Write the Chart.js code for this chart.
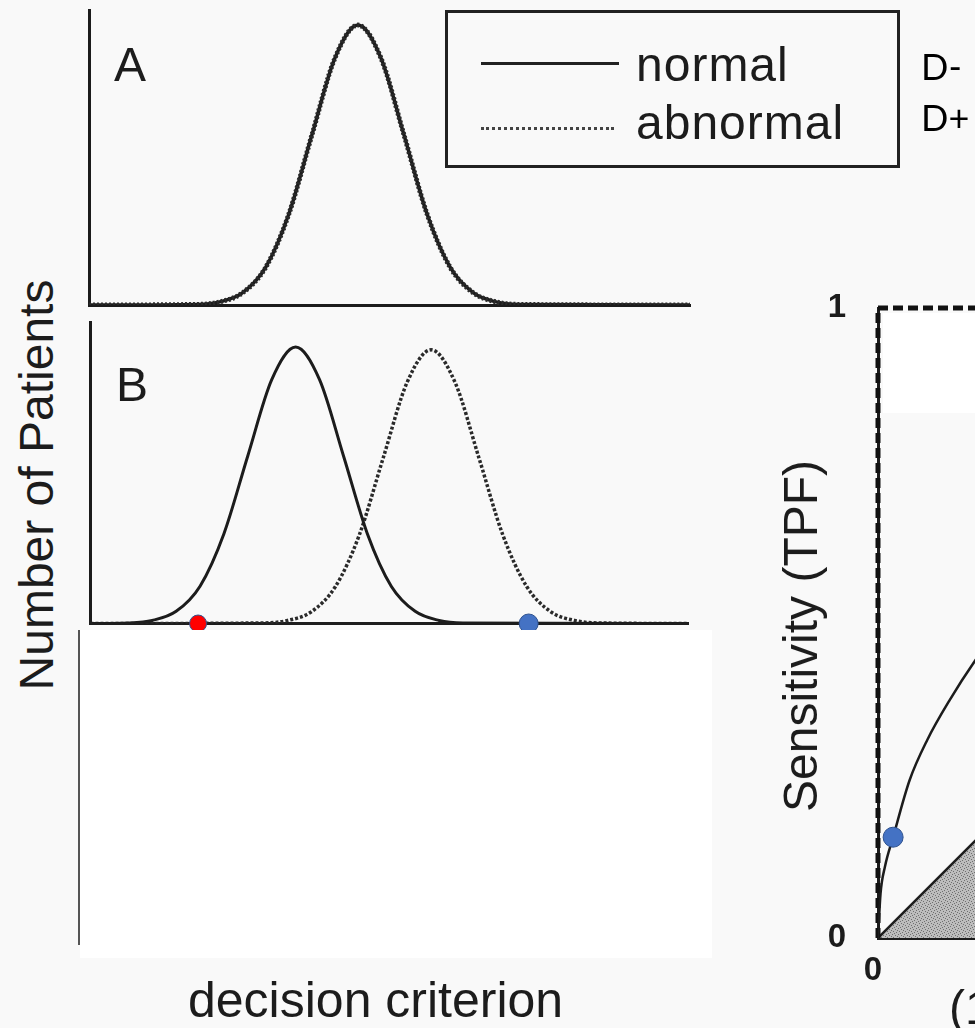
<!DOCTYPE html>
<html>
<head>
<meta charset="utf-8">
<script src="https://cdn.jsdelivr.net/npm/chart.js@4.4.1/dist/chart.umd.min.js"></script>
<style>
html, body { margin: 0; padding: 0; }
body { width: 975px; height: 1028px; overflow: hidden; position: relative; background: #f9f9f9;
       font-family: "Liberation Sans", Arial, sans-serif; color: #1c1c1c; }
canvas { position: absolute; }
.txt { position: absolute; white-space: nowrap; line-height: 1; }
.rot { transform: translate(-50%, -50%) rotate(-90deg); }
.cover { position: absolute; background: #fff; z-index: 5; }
.legend { position: absolute; left: 445px; top: 10px; width: 455px; height: 158px; box-sizing: border-box; border: 3px solid #222; }
.sample { position: absolute; left: 481px; height: 0; }
.dl { font-family: Lato, "Open Sans", sans-serif; font-size: 36px; color: #000; }
</style>
</head>
<body>

<canvas id="panel-a" width="620" height="316" style="left:80px;top:0px"></canvas>
<canvas id="panel-b" width="620" height="322" style="left:80px;top:312px"></canvas>
<canvas id="roc" width="760" height="748" style="left:760px;top:280px"></canvas>

<div class="txt" style="left:114px;top:41px;font-size:48px">A</div>
<div class="txt" style="left:116px;top:361px;font-size:48px">B</div>

<div class="legend"></div>
<div class="sample" style="top:62px;width:138px;border-top:3px solid #222"></div>
<div class="sample" style="top:127px;width:133px;border-top:3px dotted #444"></div>
<div class="txt" style="left:636px;top:41px;font-size:48px;letter-spacing:1px">normal</div>
<div class="txt" style="left:636px;top:99px;font-size:48px;letter-spacing:1px">abnormal</div>

<div class="txt dl" style="left:921px;top:48px">D-</div>
<div class="txt dl" style="left:921px;top:99px">D+</div>

<div class="txt rot" style="left:37px;top:485px;font-size:48px">Number of Patients</div>
<div class="txt" style="left:188px;top:975px;font-size:50px">decision criterion</div>
<div class="txt rot" style="left:801px;top:636px;font-size:48px">Sensitivity (TPF)</div>
<div class="txt" style="left:949px;top:984px;font-size:48px">(1 - Specificity)</div>

<div class="cover" style="left:80px;top:630px;width:632px;height:328px"></div>
<div class="cover" style="left:883px;top:313px;width:92px;height:100px"></div>
<div class="cover" style="left:78px;top:630px;width:2px;height:315px;background:#555"></div>

<script>
// A: both groups sit on top of each other
var aCriterion = [0, 2.15, 2.61, 3.07, 3.53, 3.99, 4.45, 4.91, 5.37, 5.83, 6.29, 6.75, 7.21, 7.67, 8.13, 8.59, 12]
var aNormal = [0, 0.002, 0.011, 0.044, 0.135, 0.325, 0.607, 0.882, 1, 0.882, 0.607, 0.325, 0.135, 0.044, 0.011, 0.002, 0]
var aAbnormal = [0, 0.002, 0.011, 0.044, 0.135, 0.325, 0.607, 0.882, 1, 0.882, 0.607, 0.325, 0.135, 0.044, 0.011, 0.002, 0]

// B: separated groups
var bNormalX = [0, 0.76, 1.24, 1.72, 2.20, 2.68, 3.16, 3.64, 4.12, 4.60, 5.08, 5.56, 6.04, 6.52, 7.00, 7.48, 12]
var bNormalY = [0, 0.002, 0.011, 0.044, 0.135, 0.325, 0.607, 0.882, 1, 0.882, 0.607, 0.325, 0.135, 0.044, 0.011, 0.002, 0]
var bAbnormalX = [0, 3.48, 3.96, 4.44, 4.92, 5.40, 5.88, 6.36, 6.84, 7.32, 7.80, 8.28, 8.76, 9.24, 9.72, 10.20, 12]
var bAbnormalY = [0, 0.002, 0.011, 0.043, 0.134, 0.321, 0.600, 0.873, 0.99, 0.873, 0.600, 0.321, 0.134, 0.043, 0.011, 0.002, 0]

// cut-off markers on the criterion axis
var cutX = [2.16, 8.8]
var cutColors = ['#ff0000', '#4472c4']
var cutRadius = [8.5, 9.5]

// ROC panel
var rocFpf = [0, 0.004, 0.011, 0.024, 0.05, 0.078, 0.114, 0.154, 0.25, 0.4, 0.6, 0.8, 1]
var rocTpf = [0, 0.07, 0.113, 0.16, 0.25, 0.314, 0.378, 0.44, 0.57, 0.72, 0.86, 0.95, 1]
var perfectFpf = [0, 0, 1]
var perfectTpf = [0, 1, 1]
var chanceFpf = [0, 1]
var chanceTpf = [0, 1]
var opFpf = [0.024]
var opTpf = [0.16]
var rocTicks = [0, 1]

var ink = '#1c1c1c'

function pts(xs, ys) {
    return xs.map(function (x, i) { return {x: x, y: ys[i]} })
}

function bareAxis(min, max) {
    return {
        type: 'linear', min: min, max: max,
        grid: {display: false, drawTicks: false},
        ticks: {display: false},
        border: {display: true, width: 3, color: ink}
    }
}

function curve(data, dash, width, color) {
    return {
        data: data, borderColor: color, borderWidth: width, borderDash: dash,
        pointRadius: 0, cubicInterpolationMode: 'monotone', fill: false
    }
}

var baseOpts = {
    responsive: false,
    animation: false,
    events: [],
    plugins: {legend: {display: false}, tooltip: {enabled: false}}
}

function opts(extra) {
    return Object.assign({}, baseOpts, extra)
}

new Chart(document.getElementById('panel-a'), {
    type: 'line',
    data: {
        datasets: [
            curve(pts(aCriterion, aAbnormal), [2, 2], 5, '#2a2a2a'),
            curve(pts(aCriterion, aNormal), [], 3.5, ink)
        ]
    },
    options: opts({
        layout: {padding: {left: 9, right: 10, top: 10, bottom: 11}},
        scales: {x: bareAxis(0, 12), y: bareAxis(0, 1.054)}
    })
})

new Chart(document.getElementById('panel-b'), {
    type: 'line',
    data: {
        datasets: [
            {
                data: pts(cutX, [0, 0]), showLine: false, clip: false,
                pointRadius: cutRadius, pointBackgroundColor: cutColors,
                pointBorderColor: '#2f528f', pointBorderWidth: 1
            },
            curve(pts(bNormalX, bNormalY), [], 3, ink),
            curve(pts(bAbnormalX, bAbnormalY), [3, 2], 3.5, '#2a2a2a')
        ]
    },
    options: opts({
        layout: {padding: {left: 8, right: 12, top: 6, bottom: 9}},
        scales: {x: bareAxis(0, 12), y: bareAxis(0, 1.089)}
    })
})

// speckled grey for the area under the chance line
var tile = document.createElement('canvas')
tile.width = 6
tile.height = 6
var tg = tile.getContext('2d')
tg.fillStyle = '#bdbdbd'
tg.fillRect(0, 0, 6, 6)
tg.fillStyle = '#6f6f6f'
;[[0, 0], [3, 1], [1, 3], [4, 4], [2, 5], [5, 2]].forEach(function (p) { tg.fillRect(p[0], p[1], 1, 1) })
var speckle = tg.createPattern(tile, 'repeat')

var tickFont = {family: 'Liberation Sans', size: 33, weight: 'bold'}

new Chart(document.getElementById('roc'), {
    type: 'line',
    data: {
        datasets: [
            {
                data: pts(opFpf, opTpf), showLine: false, clip: false,
                pointRadius: 10, pointBackgroundColor: '#4472c4',
                pointBorderColor: '#2f528f', pointBorderWidth: 1
            },
            curve(pts(rocFpf, rocTpf), [], 2.5, ink),
            Object.assign(curve(pts(perfectFpf, perfectTpf), [10, 5], 5, '#111'), {clip: false, cubicInterpolationMode: 'default', tension: 0}),
            Object.assign(curve(pts(chanceFpf, chanceTpf), [], 2.5, ink), {fill: 'origin', backgroundColor: speckle, tension: 0})
        ]
    },
    options: opts({
        layout: {padding: {left: 0, right: 12, top: 28, bottom: 0}},
        scales: {
            x: {
                type: 'linear', min: 0, max: 1, position: 'bottom',
                afterBuildTicks: function (s) { s.ticks = rocTicks.map(function (v) { return {value: v} }) },
                afterFit: function (s) { s.height = 90; s.paddingLeft = 0; s.paddingRight = 0 },
                grid: {display: false, drawTicks: false},
                border: {display: true, width: 3, color: ink},
                ticks: {font: tickFont, color: ink, padding: 13, labelOffset: -5, maxRotation: 0, autoSkip: false}
            },
            y: {
                type: 'linear', min: 0, max: 1, position: 'left',
                afterBuildTicks: function (s) { s.ticks = rocTicks.map(function (v) { return {value: v} }) },
                afterFit: function (s) { s.width = 118; s.paddingTop = 0; s.paddingBottom = 0 },
                grid: {display: false, drawTicks: false},
                border: {display: true, width: 3, color: ink},
                ticks: {font: tickFont, color: ink, padding: 32, autoSkip: false}
            }
        }
    })
})
</script>
</body>
</html>
